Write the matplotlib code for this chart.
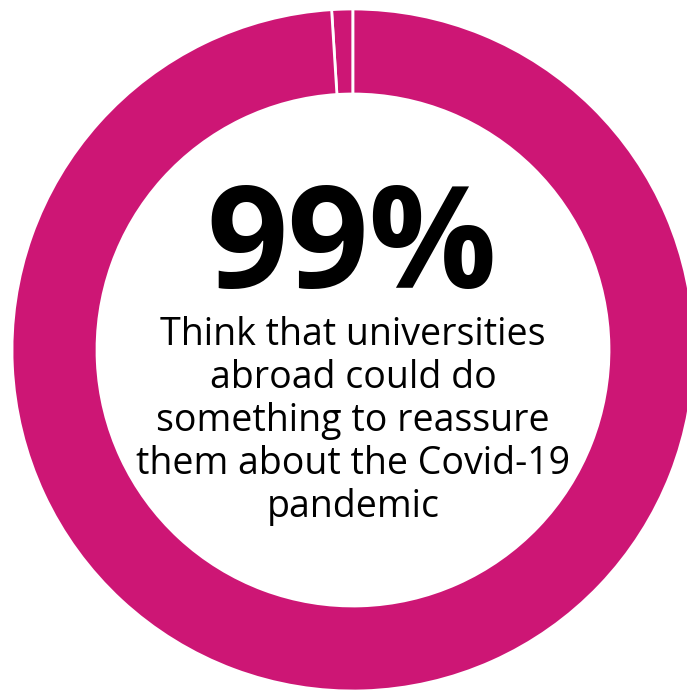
import matplotlib
matplotlib.use("Agg")
import matplotlib.pyplot as plt

values = [1, 99]
colors = ["#CD1675", "#CD1675"]
big_label = "99%"
caption = "Think that universities\nabroad could do\nsomething to reassure\nthem about the Covid-19\npandemic"

W, H = 687, 691
fig = plt.figure(figsize=(W / 100, H / 100), dpi=100)
ax = fig.add_axes([0, 0, 1, 1])
ax.pie(values, colors=colors, startangle=90, counterclock=True,
       center=(353, H - 350), radius=341,
       wedgeprops=dict(width=85, edgecolor="white", linewidth=2.0))
ax.set_xlim(0, W)
ax.set_ylim(0, H)
ax.set_aspect("equal")
ax.axis("off")

ax.text(352, H - 251, big_label, ha="center", va="center", fontsize=102.5,
        fontweight="bold", family="Open Sans", color="black")
ax.text(353, H - 421, caption, ha="center", va="center", fontsize=27,
        family="Open Sans", color="black", linespacing=1.17)

fig.savefig("out.png", dpi=100)
